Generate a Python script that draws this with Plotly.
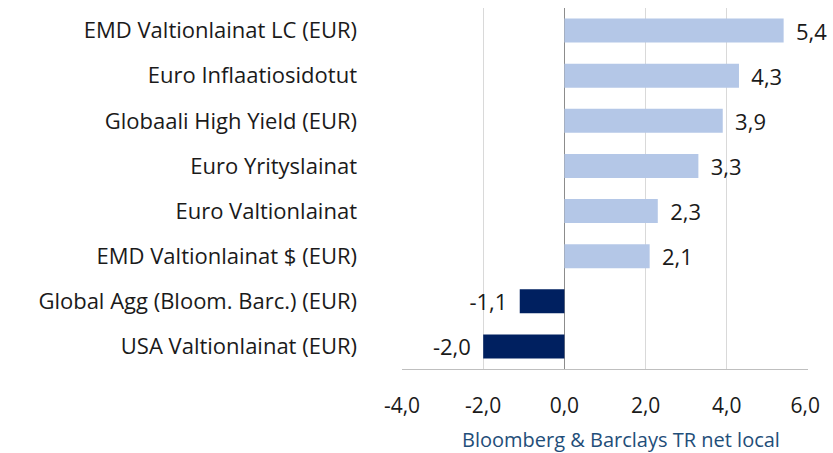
import plotly.graph_objects as go

categories = [
    "EMD Valtionlainat LC (EUR)",
    "Euro Inflaatiosidotut",
    "Globaali High Yield (EUR)",
    "Euro Yrityslainat",
    "Euro Valtionlainat",
    "EMD Valtionlainat $ (EUR)",
    "Global Agg (Bloom. Barc.) (EUR)",
    "USA Valtionlainat (EUR)",
]
values = [5.4, 4.3, 3.9, 3.3, 2.3, 2.1, -1.1, -2.0]
x_ticks = [-4, -2, 0, 2, 4, 6]
x_tick_labels = ["-4,0", "-2,0", "0,0", "2,0", "4,0", "6,0\u00a0"]
x_title = "Bloomberg & Barclays TR net local"

POS = "#b4c7e7"
NEG = "#002060"
colors = [POS if v >= 0 else NEG for v in values]
templates = [" \u2009%{x:.1f}" if v >= 0 else "%{x:.1f}\u2009 " for v in values]

font_family = "Open Sans, Noto Sans, sans-serif"

fig = go.Figure(
    go.Bar(
        x=values,
        y=categories,
        orientation="h",
        marker=dict(color=colors, line=dict(width=0)),
        texttemplate=templates,
        textposition="outside",
        constraintext="none",
        textfont=dict(size=22, color="#1a1a1a", family=font_family),
        cliponaxis=False,
        hoverinfo="skip",
    )
)

fig.update_layout(
    width=833,
    height=453,
    margin=dict(l=402, r=20, t=8, b=84),
    paper_bgcolor="white",
    plot_bgcolor="white",
    separators=", ",
    bargap=0.47,
    showlegend=False,
    font=dict(family=font_family, size=21, color="#1a1a1a"),
    annotations=[
        dict(
            text=x_title,
            xref="x domain",
            yref="paper",
            x=0.54,
            y=0,
            yshift=-70,
            xanchor="center",
            yanchor="middle",
            showarrow=False,
            borderpad=0,
            font=dict(size=20, color="#1f4e79", family=font_family),
        )
    ],
)
fig.update_xaxes(
    range=[-4, 6],
    tickvals=x_ticks,
    ticktext=x_tick_labels,
    showgrid=True,
    gridcolor="#d9d9d9",
    gridwidth=1,
    zeroline=True,
    zerolinecolor="#8c8c8c",
    zerolinewidth=1,
    showline=True,
    linecolor="#bfbfbf",
    linewidth=1,
    ticks="",
    ticklabelstandoff=18,
    tickfont=dict(size=21, color="#1a1a1a"),
)
fig.update_yaxes(
    autorange="reversed",
    showgrid=False,
    ticks="",
    showline=False,
    ticklabelstandoff=44,
    tickfont=dict(size=22, color="#1a1a1a"),
)

fig.write_html(
    "out.html",
    config={"displayModeBar": False},
    post_script="document.body.style.margin='0';document.body.style.overflow='hidden';",
)
